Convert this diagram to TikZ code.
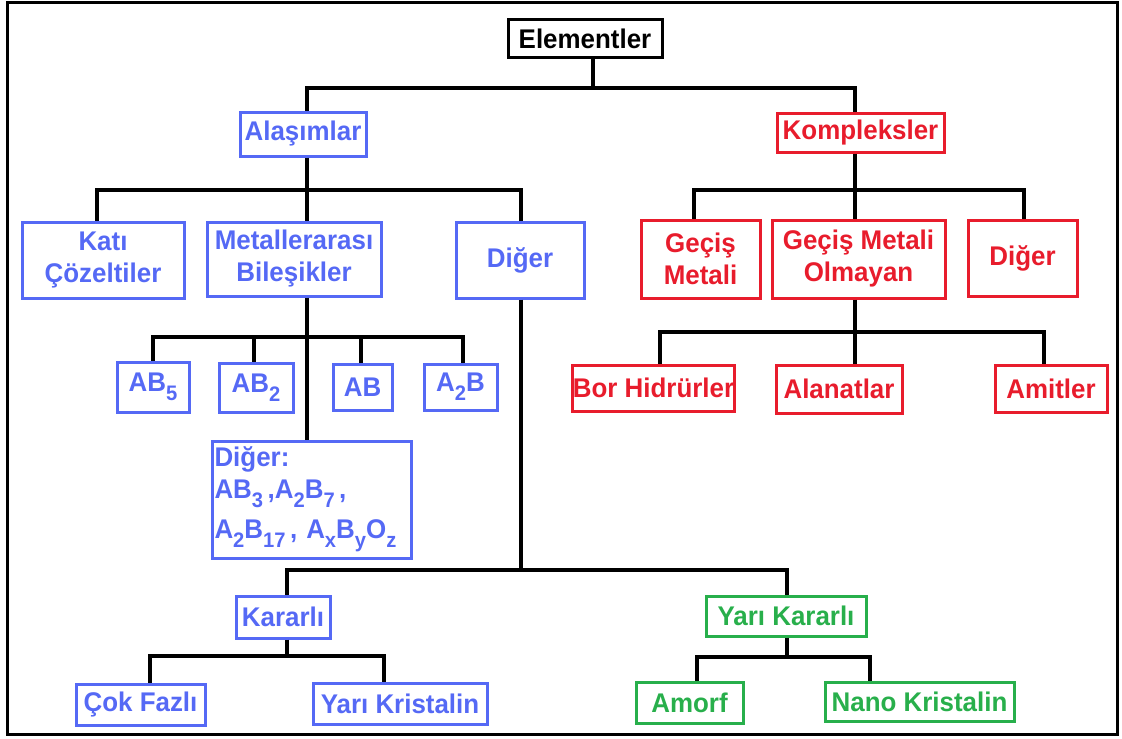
\documentclass[tikz,border=0pt]{standalone}
\usepackage{fontspec}
\setmainfont{Liberation Sans}[FakeStretch=0.96]
\definecolor{cblue}{RGB}{85,105,245}
\definecolor{cred}{RGB}{232,28,44}
\definecolor{cgreen}{RGB}{40,175,75}
\newcommand{\lsub}[1]{\raisebox{-4.5pt}{\fontsize{10.5}{10}\selectfont #1}}
\tikzset{
  bx/.style={draw, line width=1.5pt, inner sep=0pt, font=\fontsize{13.5}{16}\selectfont\bfseries, align=center},
  bbox/.style={bx, draw=black, text=black},
  blbox/.style={bx, draw=cblue, text=cblue},
  rdbox/.style={bx, draw=cred, text=cred},
  grbox/.style={bx, draw=cgreen, text=cgreen},
  conn/.style={draw=black, line width=1.6pt, line join=miter},
}
\begin{document}
\begin{tikzpicture}[x=0.5pt,y=-0.5pt]
\useasboundingbox (0,0) rectangle (1122,738);
\draw[line width=1.5pt] (7,3) rectangle (1117,734);
% nodes
\node[bbox, minimum width=77pt, minimum height=19pt] (el) at (585,39) {Elementler};
\node[blbox, minimum width=63pt, minimum height=22pt] (ala) at (303,134) {Alaşımlar};
\node[rdbox, minimum width=83.5pt, minimum height=19.5pt] (kom) at (860.5,132.5) {Kompleksler};
\node[blbox, minimum width=81pt, minimum height=38pt] (kati) at (103,260) {Katı\\Çözeltiler};
\node[blbox, minimum width=87pt, minimum height=37pt] (met) at (294,259) {Metallerarası\\Bileşikler};
\node[blbox, minimum width=64pt, minimum height=38pt] (dig1) at (520,260) {Diğer};
\node[rdbox, minimum width=59.5pt, minimum height=39pt] (gm) at (700.5,259) {Geçiş\\Metali};
\node[rdbox, minimum width=86.5pt, minimum height=39pt] (gmo) at (858.5,259) {Geçiş Metali\\Olmayan};
\node[rdbox, minimum width=54.5pt, minimum height=38pt] (dig2) at (1022.5,258) {Diğer};
\node[blbox, minimum width=36pt, minimum height=25pt] (ab5) at (153,387) {AB\lsub{5}};
\node[blbox, minimum width=37pt, minimum height=24.5pt] (ab2) at (256,387.5) {AB\lsub{2}};
\node[blbox, minimum width=29.5pt, minimum height=23pt] (ab) at (362.5,387) {AB};
\node[blbox, minimum width=36.5pt, minimum height=23pt] (a2b) at (460.5,387) {A\lsub{2}B};
\node[blbox, minimum width=99.5pt, minimum height=58.5pt, align=left, text width=97pt] (dig3) at (311.5,499.5)
  {Diğer:\\AB\lsub{3}\,,A\lsub{2}B\lsub{7}\,,\\[4pt]A\lsub{2}B\lsub{17}\,, A\lsub{x}B\lsub{y}O\lsub{z}};
\node[rdbox, minimum width=80.5pt, minimum height=23pt] (bor) at (653.5,388) {Bor Hidrürler};
\node[rdbox, minimum width=63pt, minimum height=24pt] (alan) at (839,389) {Alanatlar};
\node[rdbox, minimum width=56pt, minimum height=23.5pt] (amit) at (1051,388.5) {Amitler};
\node[blbox, minimum width=47pt, minimum height=21pt] (kar) at (283,617) {Kararlı};
\node[grbox, minimum width=80pt, minimum height=20pt] (yk) at (786,616) {Yarı Kararlı};
\node[blbox, minimum width=64.5pt, minimum height=20.5pt] (cok) at (140.5,704.5) {Çok Fazlı};
\node[blbox, minimum width=87pt, minimum height=20.5pt] (yks) at (400,703.5) {Yarı Kristalin};
\node[grbox, minimum width=53.5pt, minimum height=20.5pt] (amo) at (689.5,702.5) {Amorf};
\node[grbox, minimum width=94.5pt, minimum height=19.5pt] (nano) at (919.5,701.5) {Nano Kristalin};
% connectors
\draw[conn] (el.south -| 593,0) -- (593,88);
\draw[conn] (ala.north -| 307,0) -- (307,88) -- (855,88) -- (kom.north -| 855,0);
\draw[conn] (ala.south -| 307,0) -- (met.north -| 307,0);
\draw[conn] (kati.north -| 97,0) -- (97,190) -- (521,190) -- (dig1.north -| 521,0);
\draw[conn] (kom.south -| 855,0) -- (gmo.north -| 855,0);
\draw[conn] (gm.north -| 694,0) -- (694,190) -- (1024,190) -- (dig2.north -| 1024,0);
\draw[conn] (met.south -| 307,0) -- (dig3.north -| 307,0);
\draw[conn] (ab5.north) -- (153,337) -- (463,337) -- (a2b.north -| 463,0);
\draw[conn] (ab2.north -| 254,0) -- (254,337);
\draw[conn] (ab.north -| 361,0) -- (361,337);
\draw[conn] (gmo.south -| 855,0) -- (alan.north -| 855,0);
\draw[conn] (bor.north -| 660,0) -- (660,332) -- (1044,332) -- (amit.north -| 1044,0);
\draw[conn] (dig1.south -| 521,0) -- (521,570);
\draw[conn] (kar.north -| 287,0) -- (287,570) -- (787,570) -- (yk.north -| 787,0);
\draw[conn] (kar.south -| 287,0) -- (287,656);
\draw[conn] (cok.north -| 150,0) -- (150,656) -- (384,656) -- (yks.north -| 384,0);
\draw[conn] (yk.south -| 787,0) -- (787,657);
\draw[conn] (amo.north -| 697,0) -- (697,657) -- (870,657) -- (nano.north -| 870,0);
\end{tikzpicture}
\end{document}
